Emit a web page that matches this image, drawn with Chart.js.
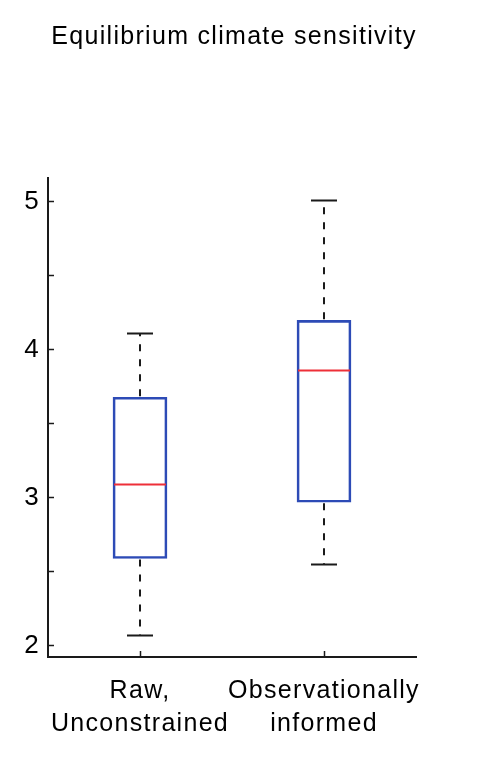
<!DOCTYPE html>
<html>
<head>
<meta charset="utf-8">
<script src="https://cdn.jsdelivr.net/npm/chart.js@4/dist/chart.umd.min.js"></script>
<style>
  html, body { margin: 0; padding: 0; background: #ffffff; }
  #wrap { width: 496px; height: 782px; }
</style>
</head>
<body>
<div id="wrap"><canvas id="chart" width="496" height="782"></canvas></div>
<script>
// box plot data
const categories = [['Raw,', 'Unconstrained'], ['Observationally', 'informed']];
const lowerWhisker = [2.07, 2.55];
const q1 = [2.59, 2.97];
const medians = [3.09, 3.86];
const q3 = [3.68, 4.20];
const upperWhisker = [4.11, 5.01];
const yTicks = [2, 2.5, 3, 3.5, 4, 4.5, 5];

const FONT = "'Liberation Sans', Arial, Helvetica, sans-serif";
const BLUE = '#2d4bb6';
const RED = '#ee2f38';
const INK = '#1a1a1a';

// the reference text is a bit more loosely tracked than Arial
const tracking = {
    id: 'tracking',
    beforeDraw(chart) {
        chart.ctx.letterSpacing = '1.3px';
    }
};

// medians, whiskers and caps drawn on top of the floating bars
const boxExtras = {
    id: 'boxExtras',
    afterDatasetsDraw(chart) {
        const ctx = chart.ctx;
        const x = chart.scales.x;
        const y = chart.scales.y;
        const half = 27;
        const capHalf = 13;
        ctx.save();
        for (let i = 0; i < categories.length; i++) {
            const cx = x.getPixelForValue(i);
            // whiskers
            ctx.strokeStyle = INK;
            ctx.lineWidth = 2;
            ctx.setLineDash([7, 8]);
            ctx.beginPath();
            ctx.moveTo(cx, y.getPixelForValue(q3[i]) - 1);
            ctx.lineTo(cx, y.getPixelForValue(upperWhisker[i]));
            ctx.moveTo(cx, y.getPixelForValue(q1[i]) + 1);
            ctx.lineTo(cx, y.getPixelForValue(lowerWhisker[i]));
            ctx.stroke();
            // caps
            ctx.setLineDash([]);
            ctx.beginPath();
            ctx.moveTo(cx - capHalf, y.getPixelForValue(upperWhisker[i]));
            ctx.lineTo(cx + capHalf, y.getPixelForValue(upperWhisker[i]));
            ctx.moveTo(cx - capHalf, y.getPixelForValue(lowerWhisker[i]));
            ctx.lineTo(cx + capHalf, y.getPixelForValue(lowerWhisker[i]));
            ctx.stroke();
            // median
            ctx.strokeStyle = RED;
            ctx.beginPath();
            ctx.moveTo(cx - half + 1, y.getPixelForValue(medians[i]));
            ctx.lineTo(cx + half - 1, y.getPixelForValue(medians[i]));
            ctx.stroke();
        }
        ctx.restore();
    }
};

new Chart(document.getElementById('chart'), {
    type: 'bar',
    data: {
        labels: categories,
        datasets: [{
            data: q1.map((v, i) => [v, q3[i]]),
            backgroundColor: 'rgba(0,0,0,0)',
            borderColor: BLUE,
            borderWidth: 2,
            borderSkipped: false,
            barThickness: 54,
        }],
    },
    options: {
        responsive: false,
        animation: false,
        layout: {
            padding: { left: 0, right: 28, top: 0, bottom: 0 },
        },
        scales: {
            x: {
                offset: true,
                afterFit: (scale) => { scale.height = 125; },
                grid: {
                    offset: false,
                    drawOnChartArea: false,
                    tickLength: -6,
                    tickWidth: 1.5,
                    tickColor: INK,
                },
                border: { color: INK, width: 2 },
                ticks: {
                    color: '#000',
                    padding: 24,
                    maxRotation: 0,
                    autoSkip: false,
                    font: { family: FONT, size: 25, lineHeight: 1.3 },
                },
            },
            y: {
                min: 1.924,
                max: 5.162,
                afterFit: (scale) => { scale.width = 48; },
                afterBuildTicks: (scale) => { scale.ticks = yTicks.map(v => ({ value: v })); },
                grid: {
                    drawOnChartArea: false,
                    tickLength: -6,
                    tickWidth: 1.5,
                    tickColor: INK,
                },
                border: { color: INK, width: 2 },
                ticks: {
                    color: '#000',
                    padding: 14,
                    font: { family: FONT, size: 26 },
                    callback: (v) => Number.isInteger(v) ? String(v) : '',
                },
            },
            // empty right-hand strip so the title centres like the original
            spacer: {
                type: 'linear',
                position: 'right',
                afterFit: (scale) => { scale.width = 52; },
                grid: { display: false, drawTicks: false },
                border: { display: false },
                ticks: { display: false },
            },
        },
        plugins: {
            legend: { display: false },
            tooltip: { enabled: false },
            title: {
                display: true,
                text: 'Equilibrium climate sensitivity',
                color: '#000',
                font: { family: FONT, size: 25, weight: 'normal', lineHeight: 1.2 },
                padding: { top: 22, bottom: 126 },
            },
        },
    },
    plugins: [tracking, boxExtras],
});
</script>
</body>
</html>
